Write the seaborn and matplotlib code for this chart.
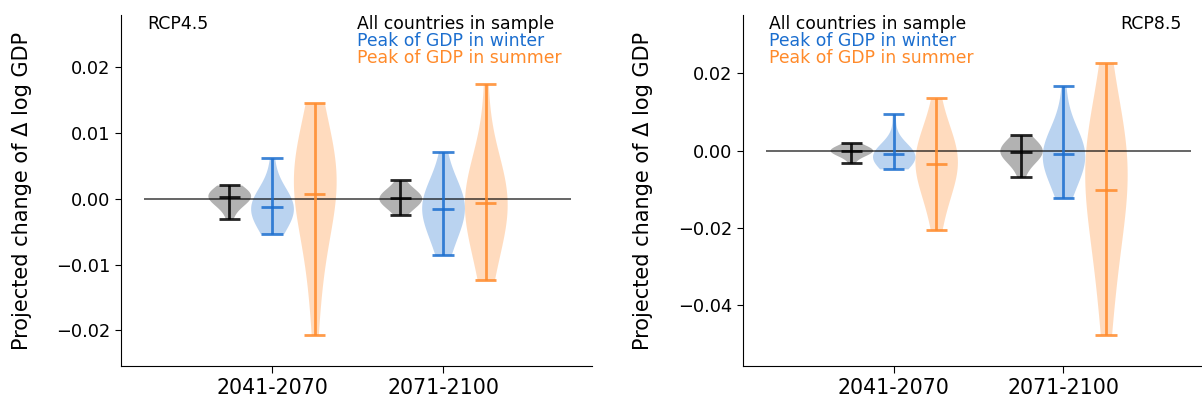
import numpy as np
import pandas as pd
import seaborn as sns
import matplotlib
matplotlib.use("Agg")
import matplotlib.pyplot as plt

periods = ["2041-2070", "2071-2100"]
groups = ["All countries in sample", "Peak of GDP in winter", "Peak of GDP in summer"]
colors = ["#000000", "#1b6ecf", "#ff8a2a"]

# projected change of delta log GDP, country samples
rcp45_all_2041 = [-0.0030, -0.0010, -0.0002, 0.0001, 0.0003, 0.0004, 0.0005, 0.0006, 0.0007, 0.0009, 0.0012, 0.0021]
rcp45_win_2041 = [-0.0053, -0.0045, -0.0040, -0.0035, -0.0028, -0.0022, -0.0018, -0.0014, -0.0011, -0.0009, -0.0007,
                  -0.0005, -0.0003, 0.0000, 0.0005, 0.0015, 0.0062]
rcp45_sum_2041 = [-0.0207, -0.0150, -0.0120, -0.0090, -0.0070, -0.0035, -0.0010, 0.0002, 0.0008, 0.0012, 0.0015,
                  0.0018, 0.0021, 0.0024, 0.0028, 0.0033, 0.0040, 0.0045, 0.0050, 0.0055, 0.0065, 0.0080, 0.0090,
                  0.0120, 0.0146]
rcp45_all_2071 = [-0.0024, -0.0012, -0.0006, -0.0003, -0.0001, 0.0000, 0.0001, 0.0002, 0.0003, 0.0005, 0.0008, 0.0014, 0.0028]
rcp45_win_2071 = [-0.0086, -0.0070, -0.0055, -0.0042, -0.0033, -0.0026, -0.0020, -0.0015, -0.0011, -0.0008, -0.0005,
                  -0.0002, 0.0001, 0.0005, 0.0012, 0.0025, 0.0072]
rcp45_sum_2071 = [-0.0123, -0.0095, -0.0070, -0.0060, -0.0035, -0.0022, -0.0012, -0.0005, 0.0000, 0.0004, 0.0008,
                  0.0012, 0.0017, 0.0020, 0.0028, 0.0040, 0.0175]

rcp85_all_2041 = [-0.0032, -0.0008, -0.0008, -0.0004, -0.0002, 0.0000, 0.0001, 0.0002, 0.0003, 0.0004, 0.0006, 0.0010, 0.0020]
rcp85_win_2041 = [-0.0047, -0.0040, -0.0034, -0.0028, -0.0024, -0.0020, -0.0017, -0.0014, -0.0012, -0.0010, -0.0008,
                  -0.0006, -0.0004, -0.0002, 0.0002, 0.0010, 0.0095]
rcp85_sum_2041 = [-0.0206, -0.0160, -0.0120, -0.0090, -0.0070, -0.0055, -0.0045, -0.0037, -0.0030, -0.0024, -0.0018,
                  -0.0012, -0.0006, 0.0000, 0.0010, 0.0030, 0.0060, 0.0135]
rcp85_all_2071 = [-0.0069, -0.0030, -0.0015, -0.0012, -0.0006, -0.0003, 0.0000, 0.0002, 0.0004, 0.0006, 0.0009, 0.0025, 0.0040]
rcp85_win_2071 = [-0.0123, -0.0095, -0.0072, -0.0055, -0.0042, -0.0032, -0.0024, -0.0017, -0.0011, -0.0006, -0.0002,
                  0.0002, 0.0007, 0.0014, 0.0020, 0.0035, 0.0060, 0.0167]
rcp85_sum_2071 = [-0.0476, -0.0420, -0.0370, -0.0320, -0.0275, -0.0235, -0.0200, -0.0170, -0.0145, -0.0122, -0.0102,
                  -0.0085, -0.0070, -0.0056, -0.0043, -0.0031, -0.0020, -0.0010, 0.0000, 0.0005, 0.0012, 0.0020,
                  0.0030, 0.0060, 0.0120, 0.0226]

scenarios = {
    "RCP4.5": [[rcp45_all_2041, rcp45_win_2041, rcp45_sum_2041],
               [rcp45_all_2071, rcp45_win_2071, rcp45_sum_2071]],
    "RCP8.5": [[rcp85_all_2041, rcp85_win_2041, rcp85_sum_2041],
               [rcp85_all_2071, rcp85_win_2071, rcp85_sum_2071]],
}

rows = []
for scen, per_list in scenarios.items():
    for p, grp_list in zip(periods, per_list):
        for g, vals in zip(groups, grp_list):
            for v in vals:
                rows.append((scen, p, g, v))
df = pd.DataFrame(rows, columns=["scenario", "period", "group", "value"])

sns.set_style("ticks")
plt.rcParams['font.family'] = ['DejaVu Sans']
for key in ["text.color", "axes.labelcolor", "xtick.color", "ytick.color", "axes.edgecolor"]:
    plt.rcParams[key] = "black"

fig = plt.figure(figsize=(12.02, 4.01), dpi=100)
ax1 = fig.add_axes([121 / 1202, 35 / 401, 471 / 1202, 351 / 401])
ax2 = fig.add_axes([743 / 1202, 35 / 401, 458 / 1202, 351 / 401])

width = 0.75
n = len(groups)
offsets = np.linspace(0, width - width / n, n) - width / 2 + width / (2 * n)
fmt = matplotlib.ticker.FuncFormatter(lambda v, pos: f"{v:.2f}".replace("-", "\u2212"))

for ax, scen in [(ax1, "RCP4.5"), (ax2, "RCP8.5")]:
    sub = df[df.scenario == scen]
    sns.violinplot(data=sub, x="period", y="value", hue="group", order=periods, hue_order=groups,
                   palette=colors, width=width, cut=0, density_norm="width", inner=None, bw_adjust=1.8,
                   saturation=1, linewidth=0, alpha=0.3, legend=False, ax=ax)
    ax.hlines(0, -0.75, 1.75, color="k", lw=1.2, alpha=0.7, zorder=3)
    for i, grp_list in enumerate(scenarios[scen]):
        for j, vals in enumerate(grp_list):
            x = i + offsets[j]
            lo, hi, mu = min(vals), max(vals), np.mean(vals)
            ax.vlines(x, lo, hi, color=colors[j], lw=2, alpha=0.85, zorder=4)
            ax.hlines([lo, hi, mu], x - 0.0625, x + 0.0625, color=colors[j], lw=2, alpha=0.85, zorder=4)
    ax.set_xlabel("")
    ax.set_ylabel("Projected change of Δ log GDP", fontsize=15)
    ax.tick_params(axis="x", labelsize=14.8, length=5)
    ax.tick_params(axis="y", labelsize=12.8, length=4)
    ax.yaxis.set_major_formatter(fmt)
    sns.despine(ax=ax)

ax1.set_xlim(-0.883, 1.871)
ax1.set_ylim(-0.0254, 0.02795)
ax1.set_yticks([-0.02, -0.01, 0.0, 0.01, 0.02])
ax1.yaxis.set_label_coords(-0.188, 0.5)
ax2.set_xlim(-0.888, 1.81)
ax2.set_ylim(-0.0557, 0.0351)
ax2.set_yticks([-0.04, -0.02, 0.0, 0.02])
ax2.yaxis.set_label_coords(-0.197, 0.5)

ax1.text(0.055, 1.0, "RCP4.5", transform=ax1.transAxes, ha="left", va="top", fontsize=12.5)
for k, (g, c) in enumerate(zip(groups, colors)):
    ax1.text(0.501, 1.0 - k * 0.049, g, color=c, transform=ax1.transAxes, ha="left", va="top", fontsize=12.4)
ax2.text(0.957, 1.0, "RCP8.5", transform=ax2.transAxes, ha="right", va="top", fontsize=12.5)
for k, (g, c) in enumerate(zip(groups, colors)):
    ax2.text(0.057, 1.0 - k * 0.049, g, color=c, transform=ax2.transAxes, ha="left", va="top", fontsize=12.4)

fig.savefig("out.png", dpi=100)
